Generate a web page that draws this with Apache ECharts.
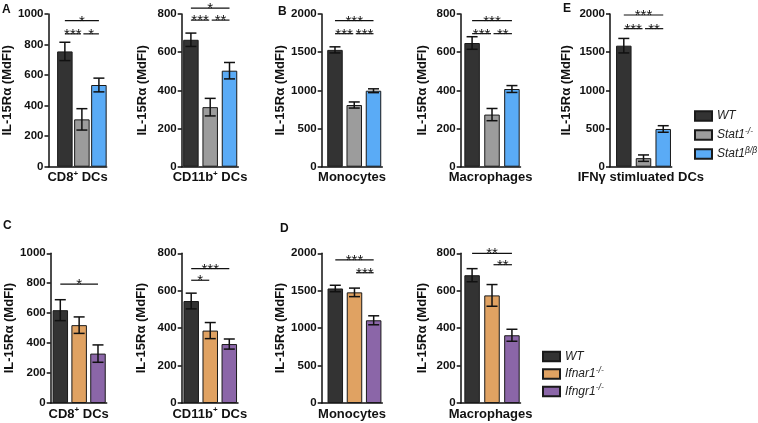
<!DOCTYPE html>
<html><head><meta charset="utf-8">
<script src="https://cdn.jsdelivr.net/npm/echarts@6/dist/echarts.min.js"></script>
<style>html,body{margin:0;padding:0;background:#fff}#c{width:758px;height:423px}</style>
</head><body><div id="c"></div>
<script>
// ---------- DATA ----------
const topCats = ['CD8+ DCs', 'CD11b+ DCs', 'Monocytes', 'Macrophages', 'IFNγ stimluated DCs'];
const topGroups = ['WT', 'Stat1-/-', 'Stat1β/β'];
const wtTop = [755, 665, 1530, 648, 1585];
const wtTopErr = [60, 35, 40, 33, 95];
const stat1KO = [310, 312, 808, 273, 112];
const stat1KOErr = [70, 46, 40, 32, 42];
const stat1BB = [535, 503, 995, 407, 494];
const stat1BBErr = [45, 43, 25, 18, 43];
const topYMax = [1000, 800, 2000, 800, 2000];
const topYStep = [200, 200, 500, 200, 500];

const botCats = ['CD8+ DCs', 'CD11b+ DCs', 'Monocytes', 'Macrophages'];
const botGroups = ['WT', 'Ifnar1-/-', 'Ifngr1-/-'];
const wtBot = [620, 545, 1530, 683];
const wtBotErr = [70, 42, 43, 35];
const ifnar1KO = [520, 387, 1478, 575];
const ifnar1KOErr = [55, 43, 57, 58];
const ifngr1KO = [330, 315, 1105, 362];
const ifngr1KOErr = [58, 27, 60, 32];
const botYMax = [1000, 800, 2000, 800];
const botYStep = [200, 200, 500, 200];

// significance brackets: [fromGroup, toGroup, level]
const topBrackets = [
  [[0, 2, 956], [0, 1, 870], [1, 2, 870]],
  [[0, 2, 831], [0, 1, 768], [1, 2, 768]],
  [[0, 2, 1912], [0, 1, 1742], [1, 2, 1742]],
  [[0, 2, 765], [0, 1, 697], [1, 2, 697]],
  [[0, 2, 1987], [0, 1, 1808], [1, 2, 1808]]
];
const topStars = [
  ['*', '***', '*'], ['*', '***', '**'], ['***', '***', '***'], ['***', '***', '**'], ['***', '***', '**']
];
const botBrackets = [
  [[0, 2, 794]],
  [[0, 2, 718], [0, 1, 656]],
  [[0, 2, 1913], [1, 2, 1740]],
  [[0, 2, 800], [1, 2, 739]]
];
const botStars = [['*'], ['***', '*'], ['***', '***'], ['**', '**']];

// ---------- STYLE / LAYOUT ----------
const FONT = "'Liberation Sans', Arial, Helvetica, sans-serif";
const topColors = ['#333333', '#9c9c9c', '#5aabf6'];
const botColors = ['#333333', '#e0a262', '#8b66a8'];
const topLayout = [
  {left: 41.7, width: 65, min: -0.963, max: 2.458, gap: 25},
  {left: 181.7, width: 56.6, min: -0.477, max: 2.456, gap: 33},
  {left: 321.7, width: 60.6, min: -0.69, max: 2.457, gap: 33},
  {left: 460.7, width: 59.8, min: -0.572, max: 2.43, gap: 32},
  {left: 610, width: 61.7, min: -0.70, max: 2.43, gap: 37}
];
const botLayout = [
  {left: 50.7, width: 56, min: -0.509, max: 2.462, gap: 34},
  {left: 181.7, width: 56.3, min: -0.499, max: 2.457, gap: 33.5},
  {left: 321.7, width: 60.6, min: -0.708, max: 2.449, gap: 33},
  {left: 460.7, width: 59.8, min: -0.572, max: 2.43, gap: 32}
];

function catName(s) {
  const m = s.match(/^(.*?)\+(.*)$/);
  return m ? '{b|' + m[1] + '}{s|+}{b|' + m[2] + '}' : '{b|' + s + '}';
}

const grids = [], xAxes = [], yAxes = [], series = [];

function addPanel(layout, top, height, cat, ymax, ystep, vals, errs, colors, groups, brackets, stars) {
  const idx = grids.length;
  grids.push({left: layout.left, top: top, width: layout.width, height: height});
  xAxes.push({
    type: 'value', gridIndex: idx, min: layout.min, max: layout.max,
    axisLine: {show: true, onZero: false, lineStyle: {color: '#111', width: 1.5}},
    axisTick: {show: false}, axisLabel: {show: false}, splitLine: {show: false},
    name: catName(cat), nameLocation: 'middle', nameGap: 3,
    nameTextStyle: {
      fontFamily: FONT, lineHeight: 16,
      rich: {
        b: {fontFamily: FONT, fontWeight: 'bold', fontSize: 13, color: '#111', lineHeight: 16},
        s: {fontFamily: FONT, fontWeight: 'bold', fontSize: 8, color: '#111', lineHeight: 8, verticalAlign: 'top'}
      }
    }
  });
  yAxes.push({
    type: 'value', gridIndex: idx, min: 0, max: ymax, interval: ystep,
    axisLine: {show: true, onZero: false, lineStyle: {color: '#111', width: 1.5}},
    axisTick: {show: true, length: 4, lineStyle: {color: '#111', width: 1.5}},
    axisLabel: {fontFamily: FONT, fontWeight: 'bold', fontSize: 11.5, color: '#111', margin: 5,
      formatter: v => String(v)},
    splitLine: {show: false},
    name: 'IL-15Rα (MdFI)', nameLocation: 'middle', nameGap: layout.gap,
    nameTextStyle: {fontFamily: FONT, fontWeight: 'bold', fontSize: 13, color: '#111'}
  });
  for (let g = 0; g < 3; g++) {
    series.push({
      type: 'bar', name: groups[g], xAxisIndex: idx, yAxisIndex: idx,
      barWidth: 15.5, barGap: '-100%',
      data: [[g, vals[g]]],
      itemStyle: {color: colors[g], borderColor: '#1a1a1a', borderWidth: 1},
      emphasis: {disabled: true}, z: 2
    });
  }
  series.push({
    type: 'custom', xAxisIndex: idx, yAxisIndex: idx, z: 5, clip: false, silent: true,
    data: [0, 1, 2].map(g => [g, vals[g], errs[g]]),
    encode: {x: 0, y: 1},
    renderItem: function (params, api) {
      const x = api.value(0), v = api.value(1), e = api.value(2);
      const t = api.coord([x, v + e]), b = api.coord([x, v - e]);
      const hw = 5.5, st = {stroke: '#111', lineWidth: 1.5};
      return {type: 'group', children: [
        {type: 'line', shape: {x1: t[0], y1: t[1], x2: b[0], y2: b[1]}, style: st},
        {type: 'line', shape: {x1: t[0] - hw, y1: t[1], x2: t[0] + hw, y2: t[1]}, style: st},
        {type: 'line', shape: {x1: b[0] - hw, y1: b[1], x2: b[0] + hw, y2: b[1]}, style: st}
      ]};
    }
  });
  series.push({
    type: 'custom', xAxisIndex: idx, yAxisIndex: idx, z: 5, clip: false, silent: true,
    data: brackets,
    encode: {x: 0, y: 2},
    renderItem: function (params, api) {
      const f = api.value(0), t = api.value(1), lv = api.value(2);
      const a = api.coord([f, lv]), b = api.coord([t, lv]);
      let x1 = a[0], x2 = b[0];
      if (t - f === 1) { if (f > 0) x1 += 1.5; if (t < 2) x2 -= 1; }
      return {type: 'group', children: [
        {type: 'line', shape: {x1: x1, y1: a[1], x2: x2, y2: a[1]}, style: {stroke: '#111', lineWidth: 1.2}},
        {type: 'text', x: (x1 + x2) / 2, y: a[1] + 8.5,
          style: {text: stars[params.dataIndex], fill: '#111', font: '15px ' + FONT, align: 'center', verticalAlign: 'bottom'}}
      ]};
    }
  });
}

for (let p = 0; p < 5; p++) {
  addPanel(topLayout[p], 14, 152.7, topCats[p], topYMax[p], topYStep[p],
    [wtTop[p], stat1KO[p], stat1BB[p]], [wtTopErr[p], stat1KOErr[p], stat1BBErr[p]],
    topColors, topGroups, topBrackets[p], topStars[p]);
}
for (let p = 0; p < 4; p++) {
  addPanel(botLayout[p], 253.3, 153.4, botCats[p], botYMax[p], botYStep[p],
    [wtBot[p], ifnar1KO[p], ifngr1KO[p]], [wtBotErr[p], ifnar1KOErr[p], ifngr1KOErr[p]],
    botColors, botGroups, botBrackets[p], botStars[p]);
}

function legendFmt(name) {
  const m = name.match(/^(.*?)(-\/-|β\/β)$/);
  return m ? '{i|' + m[1] + '}{s|' + m[2] + '}' : '{i|' + name + '}';
}
const legendText = {
  fontFamily: FONT, lineHeight: 16,
  rich: {
    i: {fontFamily: FONT, fontStyle: 'italic', fontSize: 12, color: '#222', lineHeight: 16},
    s: {fontFamily: FONT, fontStyle: 'italic', fontSize: 8.5, color: '#222', lineHeight: 8, verticalAlign: 'top'}
  }
};

const letters = [['A', 2, 4], ['B', 278, 6], ['E', 563, 3], ['C', 3, 220], ['D', 280, 223]];

const chart = echarts.init(document.getElementById('c'), null, {renderer: 'canvas'});
chart.setOption({
  animation: false,
  backgroundColor: '#ffffff',
  grid: grids, xAxis: xAxes, yAxis: yAxes, series: series,
  legend: [
    {data: topGroups, orient: 'vertical', left: 689, top: 103, itemWidth: 17, itemHeight: 9.5, itemGap: 3,
      icon: 'rect', formatter: legendFmt, textStyle: legendText, selectedMode: false},
    {data: botGroups, orient: 'vertical', left: 537, top: 343.5, itemWidth: 17, itemHeight: 9.5, itemGap: 1.5,
      icon: 'rect', formatter: legendFmt, textStyle: legendText, selectedMode: false}
  ],
  graphic: letters.map(l => ({type: 'text', left: l[1], top: l[2],
    style: {text: l[0], font: 'bold 12px ' + FONT, fill: '#111'}}))
});
</script></body></html>
